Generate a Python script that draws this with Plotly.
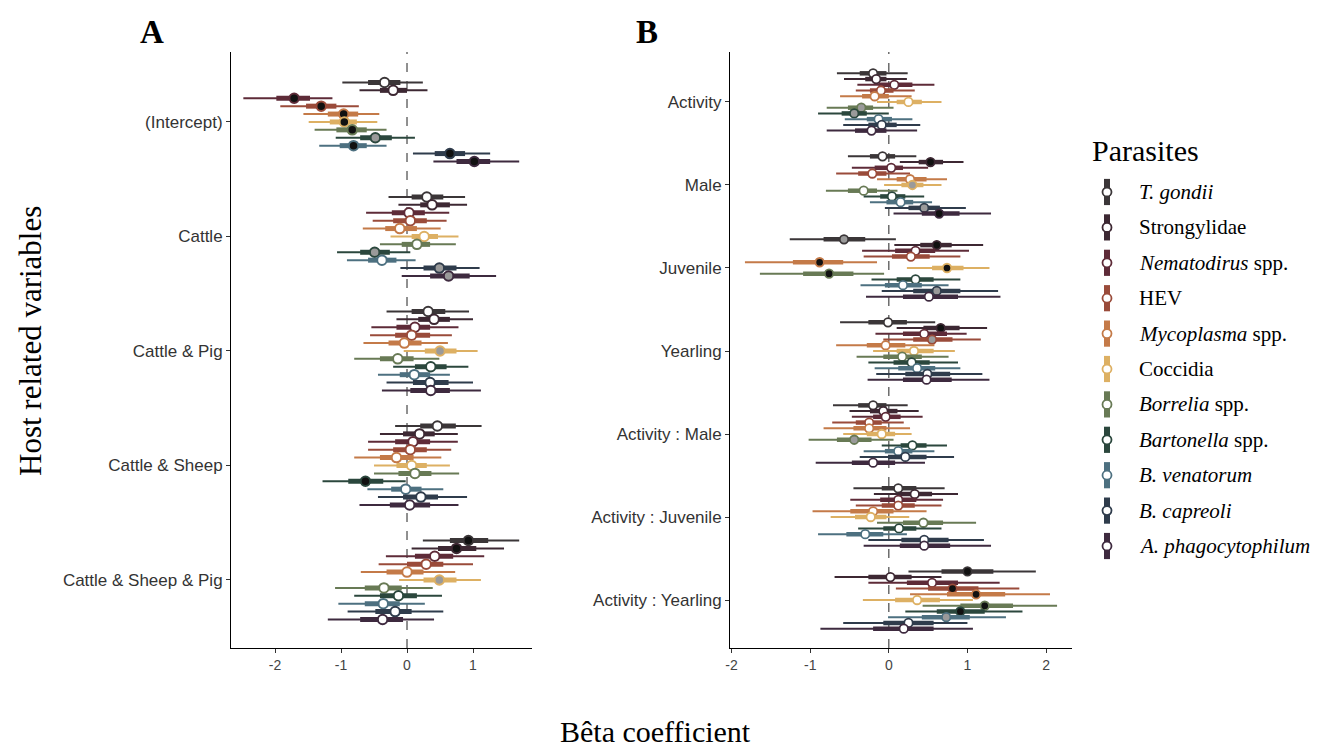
import plotly.graph_objects as go

parasites = ["<i>T. gondii</i>", "Strongylidae", "<i>Nematodirus</i> spp.", "HEV",
             "<i>Mycoplasma</i> spp.", "Coccidia", "<i>Borrelia</i> spp.",
             "<i>Bartonella</i> spp.", "<i>B. venatorum</i>", "<i>B. capreoli</i>",
             "<i>A. phagocytophilum</i>"]
colors = ["#3b3638", "#3d2833", "#5e2b38", "#9a4b3a", "#c47a48", "#ddb063",
          "#687a55", "#2b473d", "#4d7080", "#2f3c4c", "#3e2a3f"]

# ---------------- Panel A ----------------
A_vars = ["(Intercept)", "Cattle", "Cattle & Pig", "Cattle & Sheep", "Cattle & Sheep & Pig"]
A_ticks = [-2, -1, 0, 1]
A_ticktext = ["-2", "-1", "0", "1"]
A_med = [
    [-0.34, -0.21, -1.71, -1.30, -0.96, -0.95, -0.83, -0.48, -0.81, 0.65, 1.02],
    [0.30, 0.38, 0.03, 0.05, -0.11, 0.26, 0.15, -0.49, -0.38, 0.49, 0.63],
    [0.32, 0.41, 0.12, 0.07, -0.04, 0.50, -0.14, 0.36, 0.11, 0.35, 0.36],
    [0.46, 0.19, 0.09, 0.05, -0.16, 0.07, 0.12, -0.63, -0.02, 0.21, 0.04],
    [0.93, 0.75, 0.42, 0.29, 0.00, 0.49, -0.35, -0.13, -0.36, -0.18, -0.37],
]
A_lo = [
    [-0.98, -0.72, -2.48, -1.92, -1.57, -1.49, -1.40, -1.08, -1.33, 0.09, 0.40],
    [-0.28, -0.13, -0.62, -0.52, -0.67, -0.25, -0.41, -1.06, -0.91, -0.10, -0.08],
    [-0.31, -0.16, -0.54, -0.56, -0.66, -0.05, -0.80, -0.21, -0.44, -0.31, -0.38],
    [-0.18, -0.41, -0.59, -0.59, -0.80, -0.50, -0.50, -1.28, -0.60, -0.44, -0.72],
    [0.24, 0.07, -0.32, -0.43, -0.70, -0.12, -1.09, -0.80, -1.04, -0.90, -1.20],
]
A_hi = [
    [0.24, 0.31, -1.13, -0.73, -0.42, -0.45, -0.31, 0.12, -0.31, 1.26, 1.70],
    [0.88, 0.91, 0.64, 0.60, 0.51, 0.78, 0.74, 0.05, 0.13, 1.10, 1.35],
    [0.94, 1.00, 0.78, 0.68, 0.62, 1.07, 0.49, 0.93, 0.65, 1.00, 1.12],
    [1.13, 0.77, 0.77, 0.67, 0.52, 0.65, 0.79, -0.02, 0.55, 0.91, 0.78],
    [1.70, 1.47, 1.17, 1.00, 0.73, 1.12, 0.39, 0.53, 0.27, 0.55, 0.41],
]
A_lo_in = [
    [-0.59, -0.41, -1.98, -1.53, -1.20, -1.17, -1.07, -0.71, -1.02, 0.42, 0.75],
    [0.07, 0.20, -0.23, -0.21, -0.33, 0.07, -0.08, -0.71, -0.59, 0.25, 0.35],
    [0.07, 0.17, -0.16, -0.18, -0.28, 0.27, -0.41, 0.12, -0.11, 0.09, 0.05],
    [0.20, -0.06, -0.18, -0.21, -0.41, -0.16, -0.13, -0.89, -0.24, -0.06, -0.26],
    [0.65, 0.47, 0.12, 0.00, -0.31, 0.25, -0.64, -0.41, -0.64, -0.48, -0.71],
]
A_hi_in = [
    [-0.10, 0.00, -1.47, -1.07, -0.74, -0.76, -0.61, -0.23, -0.61, 0.88, 1.26],
    [0.55, 0.65, 0.27, 0.30, 0.15, 0.47, 0.35, -0.26, -0.16, 0.75, 0.95],
    [0.58, 0.65, 0.35, 0.35, 0.22, 0.75, 0.10, 0.60, 0.35, 0.63, 0.65],
    [0.74, 0.42, 0.35, 0.30, 0.10, 0.30, 0.37, -0.36, 0.22, 0.47, 0.35],
    [1.23, 1.05, 0.70, 0.55, 0.25, 0.75, -0.08, 0.15, -0.11, 0.07, -0.06],
]
A_sig = [
    [0, 0, 2, 2, 2, 2, 2, 1, 2, 2, 2],
    [0, 0, 0, 0, 0, 0, 0, 1, 0, 1, 1],
    [0, 0, 0, 0, 0, 1, 0, 0, 0, 0, 0],
    [0, 0, 0, 0, 0, 0, 0, 2, 0, 0, 0],
    [2, 2, 0, 0, 0, 1, 0, 0, 0, 0, 0],
]

# ---------------- Panel B ----------------
B_vars = ["Activity", "Male", "Juvenile", "Yearling", "Activity : Male",
          "Activity : Juvenile", "Activity : Yearling"]
B_ticks = [-2, -1, 0, 1, 2]
B_ticktext = ["-2", "-1", "0", "1", "2"]
B_med = [
    [-0.20, -0.16, 0.07, -0.10, -0.18, 0.25, -0.35, -0.44, -0.13, -0.09, -0.22],
    [-0.08, 0.53, 0.03, -0.21, 0.27, 0.30, -0.32, 0.04, 0.15, 0.45, 0.64],
    [-0.57, 0.61, 0.34, 0.28, -0.88, 0.74, -0.76, 0.34, 0.18, 0.61, 0.51],
    [-0.01, 0.66, 0.45, 0.55, -0.04, 0.32, 0.17, 0.29, 0.36, 0.49, 0.48],
    [-0.20, -0.07, -0.04, -0.25, -0.25, -0.09, -0.44, 0.30, 0.12, 0.21, -0.20],
    [0.12, 0.33, 0.12, 0.12, -0.20, -0.23, 0.44, 0.13, -0.30, 0.45, 0.45],
    [1.00, 0.02, 0.55, 0.81, 1.11, 0.36, 1.22, 0.91, 0.73, 0.25, 0.19],
]
B_lo = [
    [-0.66, -0.57, -0.40, -0.42, -0.62, -0.15, -0.79, -0.90, -0.56, -0.58, -0.79],
    [-0.52, 0.14, -0.47, -0.67, -0.15, -0.06, -0.80, -0.32, -0.24, -0.05, 0.06],
    [-1.26, 0.07, -0.34, -0.32, -1.83, 0.23, -1.64, -0.22, -0.36, -0.09, -0.29],
    [-0.62, 0.10, -0.17, -0.07, -0.67, -0.20, -0.41, -0.26, -0.18, -0.16, -0.27],
    [-0.71, -0.50, -0.47, -0.72, -0.83, -0.58, -1.02, -0.09, -0.32, -0.37, -0.93],
    [-0.45, -0.19, -0.49, -0.42, -0.97, -0.74, -0.15, -0.39, -0.90, -0.26, -0.32],
    [0.25, -0.69, -0.26, 0.09, 0.27, -0.33, 0.43, 0.21, -0.01, -0.58, -0.87],
]
B_hi = [
    [0.24, 0.23, 0.58, 0.33, 0.29, 0.67, 0.06, 0.00, 0.30, 0.40, 0.36],
    [0.35, 0.95, 0.50, 0.27, 0.74, 0.67, 0.11, 0.45, 0.55, 0.98, 1.30],
    [0.09, 1.20, 1.02, 0.91, -0.15, 1.28, -0.06, 0.91, 0.76, 1.39, 1.42],
    [0.59, 1.25, 0.99, 1.17, 0.58, 0.84, 0.76, 0.88, 0.91, 1.19, 1.28],
    [0.24, 0.38, 0.43, 0.19, 0.27, 0.29, 0.06, 0.74, 0.58, 0.83, 0.46],
    [0.71, 0.88, 0.69, 0.67, 0.48, 0.26, 1.11, 0.67, 0.23, 1.21, 1.30],
    [1.87, 0.67, 1.41, 1.66, 2.05, 1.07, 2.14, 1.70, 1.49, 1.00, 1.07],
]
B_lo_in = [
    [-0.37, -0.30, -0.13, -0.24, -0.34, 0.10, -0.52, -0.60, -0.28, -0.26, -0.43],
    [-0.24, 0.38, -0.18, -0.39, 0.10, 0.16, -0.52, -0.11, -0.03, 0.25, 0.42],
    [-0.83, 0.40, 0.08, 0.04, -1.22, 0.55, -1.09, 0.10, -0.05, 0.31, 0.18],
    [-0.26, 0.44, 0.18, 0.31, -0.28, 0.10, -0.07, 0.06, 0.12, 0.21, 0.18],
    [-0.39, -0.24, -0.20, -0.42, -0.45, -0.28, -0.66, 0.15, -0.05, -0.01, -0.47],
    [-0.09, 0.12, -0.11, -0.09, -0.49, -0.43, 0.18, -0.07, -0.54, 0.16, 0.14],
    [0.67, -0.26, 0.23, 0.50, 0.74, 0.08, 0.91, 0.61, 0.42, -0.07, -0.20],
]
B_hi_in = [
    [-0.03, -0.03, 0.30, 0.06, 0.00, 0.42, -0.20, -0.28, 0.04, 0.10, -0.03],
    [0.08, 0.69, 0.18, -0.03, 0.48, 0.44, -0.15, 0.21, 0.31, 0.65, 0.90],
    [-0.30, 0.80, 0.59, 0.52, -0.58, 0.95, -0.45, 0.57, 0.42, 0.91, 0.88],
    [0.23, 0.90, 0.74, 0.81, 0.21, 0.57, 0.42, 0.52, 0.59, 0.78, 0.80],
    [-0.03, 0.11, 0.15, -0.09, -0.03, 0.08, -0.22, 0.48, 0.30, 0.48, 0.08],
    [0.35, 0.55, 0.35, 0.33, 0.06, -0.03, 0.69, 0.35, -0.07, 0.76, 0.78],
    [1.33, 0.29, 0.88, 1.14, 1.48, 0.65, 1.58, 1.22, 1.03, 0.57, 0.57],
]
B_sig = [
    [0, 0, 0, 0, 0, 0, 1, 1, 0, 0, 0],
    [0, 2, 0, 0, 0, 1, 0, 0, 0, 1, 2],
    [1, 2, 0, 0, 2, 2, 2, 0, 0, 1, 0],
    [0, 2, 0, 1, 0, 0, 0, 0, 0, 0, 0],
    [0, 0, 0, 0, 0, 0, 1, 0, 0, 0, 0],
    [0, 0, 0, 0, 0, 0, 0, 0, 0, 0, 0],
    [2, 0, 0, 2, 2, 0, 2, 2, 1, 0, 0],
]

FILL = {0: "white", 1: "#9a9a9a", 2: "#111111"}
DODGE = 0.069
SERIF = "Liberation Serif, Times New Roman, serif"
SANS = "Liberation Sans, Arial, sans-serif"

fig = go.Figure()


def add_panel(med, lo, hi, lo_in, hi_in, sig, xa, ya, thin_w, thick_w, msize, mline):
    nv = len(med)
    n = len(parasites)
    for j in range(n):
        ys = [i + (j - (n - 1) / 2) * DODGE for i in range(nv)]
        tx, ty, kx, ky = [], [], [], []
        for i in range(nv):
            tx += [lo[i][j], hi[i][j], None]
            ty += [ys[i], ys[i], None]
            kx += [lo_in[i][j], hi_in[i][j], None]
            ky += [ys[i], ys[i], None]
        fig.add_trace(go.Scatter(x=tx, y=ty, mode="lines", xaxis=xa, yaxis=ya,
                                 line=dict(color=colors[j], width=thin_w),
                                 showlegend=False, hoverinfo="skip"))
        fig.add_trace(go.Scatter(x=kx, y=ky, mode="lines", xaxis=xa, yaxis=ya,
                                 line=dict(color=colors[j], width=thick_w),
                                 showlegend=False, hoverinfo="skip"))
        fig.add_trace(go.Scatter(x=[med[i][j] for i in range(nv)], y=ys, mode="markers",
                                 xaxis=xa, yaxis=ya,
                                 marker=dict(size=msize, color=[FILL[sig[i][j]] for i in range(nv)],
                                             line=dict(color=colors[j], width=mline)),
                                 showlegend=False, hoverinfo="skip"))


add_panel(A_med, A_lo, A_hi, A_lo_in, A_hi_in, A_sig, "x", "y", 2, 5, 9.5, 2)
add_panel(B_med, B_lo, B_hi, B_lo_in, B_hi_in, B_sig, "x2", "y2", 2, 4.5, 8.5, 1.8)

# custom legend glyphs (x3/y3 axes)
leg_y = list(range(len(parasites)))
for j in range(len(parasites)):
    fig.add_trace(go.Scatter(x=[0, 0], y=[leg_y[j] - 0.37, leg_y[j] + 0.37], mode="lines",
                             xaxis="x3", yaxis="y3", line=dict(color=colors[j], width=6),
                             showlegend=False, hoverinfo="skip"))
    fig.add_trace(go.Scatter(x=[0], y=[leg_y[j]], mode="markers", xaxis="x3", yaxis="y3",
                             marker=dict(size=9, color="white", line=dict(color=colors[j], width=1.8)),
                             showlegend=False, hoverinfo="skip"))

annotations = []
for j, name in enumerate(parasites):
    annotations.append(dict(x=3, y=leg_y[j], xref="x3", yref="y3", text=name, showarrow=False,
                            xanchor="left", yanchor="middle",
                            font=dict(family=SERIF, size=21, color="black")))
annotations += [
    dict(x=1090 / 1326, y=1 - 150 / 747, xref="paper", yref="paper", text="Parasites",
         showarrow=False, xanchor="left", yanchor="middle",
         font=dict(family=SERIF, size=30, color="black")),
    dict(x=152 / 1326, y=1 - 32 / 747, xref="paper", yref="paper", text="<b>A</b>", showarrow=False,
         xanchor="center", yanchor="middle", font=dict(family=SERIF, size=33, color="black")),
    dict(x=647 / 1326, y=1 - 32 / 747, xref="paper", yref="paper", text="<b>B</b>", showarrow=False,
         xanchor="center", yanchor="middle", font=dict(family=SERIF, size=33, color="black")),
    dict(x=655 / 1326, y=0, xref="paper", yref="paper", text="Bêta coefficient",
         showarrow=False, xanchor="center", yanchor="bottom", yshift=-3,
         font=dict(family=SERIF, size=30, color="black")),
    dict(x=30 / 1326, y=1 - 341 / 747, xref="paper", yref="paper", text="Host related variables",
         showarrow=False, xanchor="center", yanchor="middle", textangle=-90,
         font=dict(family=SERIF, size=31, color="black")),
]

ydom = [1 - 648 / 747, 1 - 52 / 747]
axis_common = dict(showline=True, linecolor="black", linewidth=1, ticks="outside", ticklen=4,
                   tickcolor="#333", showgrid=False, zeroline=False, automargin=False,
                   tickfont=dict(family=SANS, size=14, color="#444"))
yfont = dict(family=SANS, size=17, color="#333")

fig.update_layout(
    width=1326, height=747,
    margin=dict(l=0, r=0, t=0, b=0, pad=0),
    paper_bgcolor="white", plot_bgcolor="white",
    showlegend=False,
    xaxis=dict(domain=[231 / 1326, 532 / 1326], range=[-2.667, 1.894], anchor="y",
               tickvals=A_ticks, ticktext=A_ticktext, **axis_common),
    yaxis=dict(domain=ydom, range=[4.594, -0.611], anchor="x",
               tickvals=list(range(len(A_vars))), ticktext=A_vars,
               **{**axis_common, "tickfont": yfont}),
    xaxis2=dict(domain=[730 / 1326, 1072 / 1326], range=[-2.02, 2.33], anchor="y2",
                tickvals=B_ticks, ticktext=B_ticktext, **axis_common),
    yaxis2=dict(domain=ydom, range=[6.578, -0.602], anchor="x2",
                tickvals=list(range(len(B_vars))), ticktext=B_vars,
                **{**axis_common, "tickfont": yfont}),
    xaxis3=dict(domain=[1097 / 1326, 1], range=[-1, 21.9], visible=False, anchor="y3",
                automargin=False),
    yaxis3=dict(domain=[1 - 563 / 747, 1 - 175 / 747], range=[10.48, -0.48], visible=False,
                anchor="x3", automargin=False),
    annotations=annotations,
    shapes=[
        dict(type="line", xref="x", yref="y domain", x0=0, x1=0, y0=0, y1=1,
             line=dict(color="#555", width=1.3, dash="dash"), layer="below"),
        dict(type="line", xref="x2", yref="y2 domain", x0=0, x1=0, y0=0, y1=1,
             line=dict(color="#555", width=1.3, dash="dash"), layer="below"),
    ],
)

fig.write_html("out.html")
